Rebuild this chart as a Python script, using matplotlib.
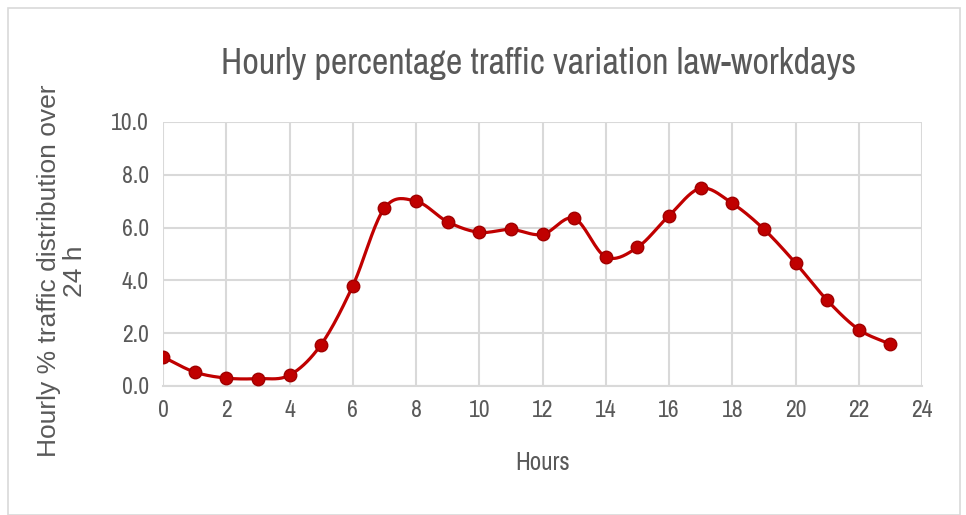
import matplotlib
matplotlib.use('Agg')
import matplotlib.pyplot as plt
import matplotlib.font_manager as fm
import numpy as np

# Data
hours = list(range(24))
traffic = [1.10, 0.53, 0.30, 0.28, 0.41, 1.57, 3.79, 6.73, 7.00, 6.22, 5.82, 5.93,
           5.74, 6.35, 4.89, 5.25, 6.45, 7.49, 6.92, 5.94, 4.66, 3.25, 2.14, 1.58]
x_ticks = list(range(0, 25, 2))
y_ticks = [0.0, 2.0, 4.0, 6.0, 8.0, 10.0]

title = 'Hourly percentage traffic variation law-workdays'
x_label = 'Hours'
y_label = 'Hourly % traffic distribution over\n24 h'

text_col = '#595959'
red = '#C00000'


def narrow_font(size):
    # look for a condensed face among the installed files
    files = [f.fname for f in fm.fontManager.ttflist]
    cands = [f for f in files if 'Narrow' in f and 'Bold' not in f and 'Italic' not in f]
    cands += [f for f in files if 'Condensed' in f and 'Bold' not in f
              and 'Oblique' not in f and 'Italic' not in f and 'Sans' in f]
    if cands:
        return fm.FontProperties(fname=cands[0], size=size)
    return fm.FontProperties(family='DejaVu Sans', stretch='condensed', size=size)


def smooth(x, y, n=20):
    # Catmull-Rom style spline through the points (like a smoothed line)
    x = np.asarray(x, float)
    y = np.asarray(y, float)
    px = np.concatenate([[2 * x[0] - x[1]], x, [2 * x[-1] - x[-2]]])
    py = np.concatenate([[2 * y[0] - y[1]], y, [2 * y[-1] - y[-2]]])
    xs, ys = [], []
    t = np.linspace(0, 1, n, endpoint=False)
    for i in range(1, len(px) - 2):
        for p, out in ((px, xs), (py, ys)):
            p0, p1, p2, p3 = p[i - 1], p[i], p[i + 1], p[i + 2]
            out.extend(0.5 * (2 * p1 + (-p0 + p2) * t
                              + (2 * p0 - 5 * p1 + 4 * p2 - p3) * t ** 2
                              + (-p0 + 3 * p1 - 3 * p2 + p3) * t ** 3))
    xs.append(x[-1])
    ys.append(y[-1])
    return np.array(xs), np.array(ys)


fig = plt.figure(figsize=(9.66, 5.15), dpi=100)
ax = fig.add_axes([163 / 966, 1 - 386 / 515, (922 - 163) / 966, (386 - 122) / 515])

# chart border
fig.patches.append(plt.Rectangle((8 / 966, 0), 952 / 966, 1 - 8 / 515, transform=fig.transFigure,
                                 fill=False, edgecolor='#D9D9D9', linewidth=1.2))

sx, sy = smooth(hours, traffic)
ax.plot(sx, sy, color=red, linewidth=2.3, zorder=3)
ax.plot(hours, traffic, linestyle='none', marker='o', markersize=9,
        markerfacecolor=red, markeredgecolor='#A00000', markeredgewidth=1, zorder=4)

ax.set_xlim(0, 24)
ax.set_ylim(0, 10)
ax.set_xticks(x_ticks)
ax.set_yticks(y_ticks)
ax.set_xticklabels([str(v) for v in x_ticks], fontproperties=narrow_font(17), color=text_col)
ax.set_yticklabels(['%.1f' % v for v in y_ticks], fontproperties=narrow_font(17), color=text_col)
ax.tick_params(length=0, pad=10)
ax.grid(True, color='#D9D9D9', linewidth=1.5)
ax.set_axisbelow(True)
for side in ax.spines:
    ax.spines[side].set_visible(False)
ax.spines['bottom'].set_visible(True)
ax.spines['bottom'].set_color('#D9D9D9')
ax.spines['bottom'].set_linewidth(1.5)

fig.text(539 / 966, 1 - 64 / 515, title, fontproperties=narrow_font(26), color=text_col,
         ha='center', va='center')
fig.text(543 / 966, 1 - 462 / 515, x_label, fontproperties=narrow_font(18), color=text_col,
         ha='center', va='center')
fig.text(62 / 966, 1 - 271 / 515, y_label, fontfamily='Liberation Sans', fontsize=19,
         color=text_col, ha='center', va='center', rotation=90, multialignment='center',
         linespacing=1.1)

fig.savefig('out.png', dpi=100)
